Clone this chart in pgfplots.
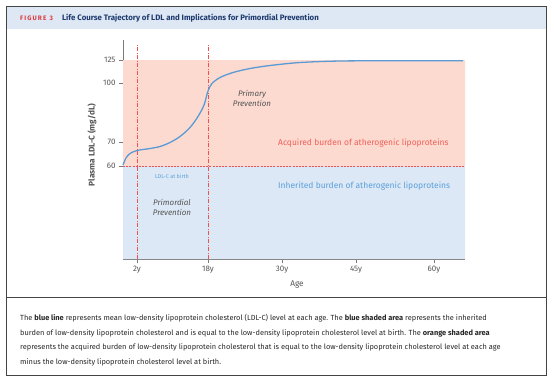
\documentclass[border=0pt]{standalone}
\usepackage{pgfplots}
\pgfplotsset{compat=1.18}
\usepackage{fontspec}
\setmainfont{Fira Sans}
\definecolor{bluefill}{HTML}{DCE8F5}
\definecolor{orangefill}{HTML}{FCDAD0}
\definecolor{titlebg}{HTML}{DDE8F4}
\definecolor{curveblue}{HTML}{5B9BD5}
\definecolor{dashred}{HTML}{F05050}
\definecolor{acqtext}{HTML}{F0605A}
\definecolor{inhtext}{HTML}{5B9FDB}
\definecolor{figred}{HTML}{E0393E}
\definecolor{titlenavy}{HTML}{1F3A6E}
\definecolor{axisgray}{HTML}{7A7A7A}
\definecolor{labelgray}{HTML}{555555}
\definecolor{framegray}{HTML}{444444}
\begin{document}
\begin{tikzpicture}[x=1bp,y=1bp]
\path[use as bounding box] (0,0) rectangle (554,-387);
\fill[titlebg] (6,-6) rectangle (546,-29);
\draw[framegray, line width=1bp] (6,-6) rectangle (546,-375);
\draw[framegray, line width=0.8bp] (6,-297) -- (546,-297);
\node[anchor=west, inner sep=0, font=\fontsize{6.5}{7}\selectfont\bfseries, text=figred] at (20,-18) {F\,I\,G\,U\,R\,E\ \ 3};
\node[anchor=west, inner sep=0, font=\fontsize{7.9}{9}\selectfont\bfseries, text=titlenavy] at (62,-18) {Life Course Trajectory of LDL and Implications for Primordial Prevention};
\begin{axis}[
  x=1bp, y=1bp,
  at={(123bp,-259bp)}, anchor=south west,
  xmin=123, xmax=465, ymin=0, ymax=219,
  axis x line*=bottom, axis y line*=left,
  axis line style={-},
  x axis line style={line width=1.5bp, color=axisgray},
  y axis line style={line width=0.8bp, color=axisgray},
  tick style={axisgray, line width=0.6bp},
  tick align=outside,
  major tick length=4bp,
  xtick={137,208,282,356,434},
  xticklabels={2y,18y,30y,45y,60y},
  ytick={93,117,176,199},
  yticklabels={60,70,100,125},
  ticklabel style={font=\fontsize{8}{9}\selectfont, text=labelgray},
  clip=false,
]
\addplot[fill=bluefill, draw=none] coordinates {(123,0) (465,0) (465,93) (123,93) (123,0)};
\addplot[fill=orangefill, draw=none] coordinates {(123,93) (465,93) (465,199) (123,199) (123,93)};
\addplot[dashred, line width=0.6bp, dash pattern=on 2bp off 1.2bp] coordinates {(123,93) (465,93)};
\addplot[draw=dashred, line width=0.8bp, dash pattern=on 4bp off 1.5bp on 1bp off 1.5bp] coordinates {(208,0) (208,215)};
\addplot[draw=dashred, line width=0.8bp, dash pattern=on 4bp off 1.5bp on 1bp off 1.5bp] coordinates {(137,0) (137,215)};
\addplot[curveblue, line width=1.3bp, smooth] coordinates {
(123,94) (126,101) (130,105.5) (137,108.5) (150,110.5) (160,112.5) (170,116.5)
(180,122.5) (190,131.5) (198,142.5) (204,154) (208,168)
(212,175.5) (220,181.5) (233,186.5) (250,190.5) (270,193.5) (300,196.5)
(340,198) (400,198.3) (463,198.3)};
\end{axis}
\node[font=\fontsize{8}{10}\selectfont\itshape, text=labelgray, align=center] at (252,-98) {Primary\\Prevention};
\node[font=\fontsize{8}{10}\selectfont\itshape, text=labelgray, align=center] at (172,-207) {Primordial\\Prevention};
\node[font=\fontsize{5.5}{6}\selectfont, text=inhtext] at (172,-176) {LDL-C at birth};
\node[anchor=west, inner sep=0, font=\fontsize{8.5}{10}\selectfont, text=acqtext] at (278,-143) {Acquired burden of atherogenic lipoproteins};
\node[anchor=west, inner sep=0, font=\fontsize{8.5}{10}\selectfont, text=inhtext] at (278,-186) {Inherited burden of atherogenic lipoproteins};
\node[rotate=90, font=\fontsize{8.3}{10}\selectfont\bfseries, text=labelgray] at (92,-145) {Plasma LDL-C (mg/dL)};
\node[font=\fontsize{8.3}{10}\selectfont, text=labelgray] at (297,-285) {Age};
\begin{scope}[every node/.style={anchor=west, inner sep=0, font=\fontsize{7.45}{9}\selectfont, text=black!85}]
\node at (20,-318) {The \textbf{blue line} represents mean low-density lipoprotein cholesterol (LDL-C) level at each age. The \textbf{blue shaded area} represents the inherited};
\node at (20,-333) {burden of low-density lipoprotein cholesterol and is equal to the low-density lipoprotein cholesterol level at birth. The \textbf{orange shaded area}};
\node at (20,-347) {represents the acquired burden of low-density lipoprotein cholesterol that is equal to the low-density lipoprotein cholesterol level at each age};
\node at (20,-362) {minus the low-density lipoprotein cholesterol level at birth.};
\end{scope}
\end{tikzpicture}
\end{document}
